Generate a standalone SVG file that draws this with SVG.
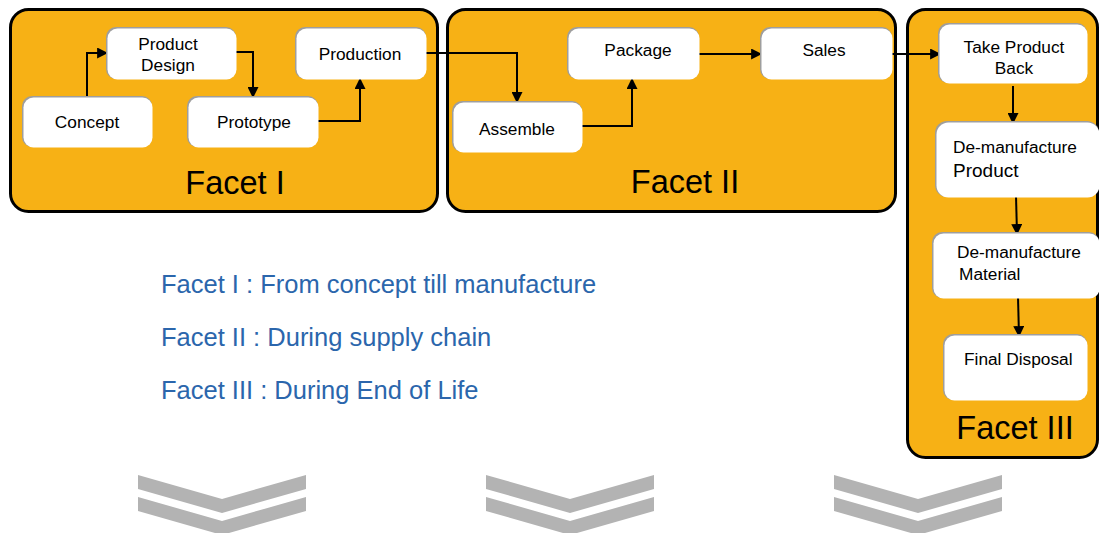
<svg xmlns="http://www.w3.org/2000/svg" width="1099" height="533" viewBox="0 0 1099 533">
  <defs>
    <marker id="arrow" viewBox="0 0 10 10" refX="9" refY="5" markerWidth="5.5" markerHeight="5.5" orient="auto" markerUnits="strokeWidth">
      <path d="M0,0 L10,5 L0,10 Z" fill="#000"/>
    </marker>
    <polygon id="chev" points="-84,0 0,24 84,0 84,14 0,38 -84,14"/>
  </defs>
  <style>
    .facet { fill: #F7B115; stroke: #000; stroke-width: 3; }
    .facet-title { font-family: "Liberation Sans", Arial, sans-serif; font-size: 32.5px; fill: #000; text-anchor: middle; }
    .shadow { fill: #9E9E9E; }
    .box { fill: #fff; }
    .label { font-family: "Liberation Sans", Arial, sans-serif; font-size: 17.3px; fill: #000; }
    .mid { text-anchor: middle; }
    .conn { fill: none; stroke: #000; stroke-width: 2; marker-end: url(#arrow); }
    .legend { font-family: "Liberation Sans", Arial, sans-serif; font-size: 25.5px; fill: #2B66AC; }
    .chevron { fill: #B3B3B3; }
  </style>

  <!-- Facet containers -->
  <g id="facet-1">
    <rect class="facet" x="10.5" y="9.5" width="427" height="202" rx="18"/>
    <text class="facet-title" x="235" y="194">Facet I</text>
  </g>
  <g id="facet-2">
    <rect class="facet" x="447.5" y="9.5" width="448" height="202" rx="18"/>
    <text class="facet-title" x="685" y="193">Facet II</text>
  </g>
  <g id="facet-3">
    <rect class="facet" x="907.5" y="9.5" width="190" height="448" rx="18"/>
    <text class="facet-title" x="1015" y="439">Facet III</text>
  </g>

  <!-- Connectors -->
  <g id="connectors">
    <path class="conn" d="M87,97 V53 H107"/>
    <path class="conn" d="M234,52 H253 V97"/>
    <path class="conn" d="M316,121 H360 V79"/>
    <path class="conn" d="M426,53 H517 V102"/>
    <path class="conn" d="M580,126 H632 V79"/>
    <path class="conn" d="M697,54 H761"/>
    <path class="conn" d="M892,54 H940"/>
    <path class="conn" d="M1013,86 V123"/>
    <path class="conn" d="M1016,196 L1017,234"/>
    <path class="conn" d="M1018,297 L1019,336"/>
  </g>

  <!-- Facet I nodes -->
  <g id="concept">
    <rect class="shadow" x="22" y="96" width="130" height="51" rx="10"/>
    <rect class="box" x="23.5" y="97.5" width="129" height="50" rx="10"/>
    <text class="label mid" x="87" y="128">Concept</text>
  </g>
  <g id="product-design">
    <rect class="shadow" x="106" y="27" width="130" height="52" rx="10"/>
    <rect class="box" x="107.5" y="28.5" width="129" height="51" rx="10"/>
    <text class="label mid" x="168" y="50">Product</text>
    <text class="label mid" x="168" y="71">Design</text>
  </g>
  <g id="prototype">
    <rect class="shadow" x="187" y="96" width="131" height="51" rx="10"/>
    <rect class="box" x="188.5" y="97.5" width="130" height="50" rx="10"/>
    <text class="label mid" x="254" y="128">Prototype</text>
  </g>
  <g id="production">
    <rect class="shadow" x="295" y="27" width="131" height="52" rx="10"/>
    <rect class="box" x="296.5" y="28.5" width="130" height="51" rx="10"/>
    <text class="label mid" x="360" y="60">Production</text>
  </g>

  <!-- Facet II nodes -->
  <g id="assemble">
    <rect class="shadow" x="452" y="101" width="130" height="51" rx="10"/>
    <rect class="box" x="453.5" y="102.5" width="129" height="50" rx="10"/>
    <text class="label mid" x="517" y="135">Assemble</text>
  </g>
  <g id="package">
    <rect class="shadow" x="567" y="27" width="132" height="52" rx="10"/>
    <rect class="box" x="568.5" y="28.5" width="131" height="51" rx="10"/>
    <text class="label mid" x="638" y="56">Package</text>
  </g>
  <g id="sales">
    <rect class="shadow" x="760" y="27" width="132" height="52" rx="10"/>
    <rect class="box" x="761.5" y="28.5" width="131" height="51" rx="10"/>
    <text class="label mid" x="824" y="56">Sales</text>
  </g>

  <!-- Facet III nodes -->
  <g id="take-product-back">
    <rect class="shadow" x="938" y="23" width="149" height="60" rx="10"/>
    <rect class="box" x="939.5" y="24.5" width="148" height="59" rx="10"/>
    <text class="label mid" x="1014" y="53">Take Product</text>
    <text class="label mid" x="1014" y="74">Back</text>
  </g>
  <g id="demanufacture-product">
    <rect class="shadow" x="935" y="121" width="164" height="76" rx="12"/>
    <rect class="box" x="936.5" y="122.5" width="163" height="75" rx="12"/>
    <text class="label" x="953" y="153">De-manufacture</text>
    <text class="label" x="953" y="177" style="font-size:19px">Product</text>
  </g>
  <g id="demanufacture-material">
    <rect class="shadow" x="932" y="232" width="167" height="66" rx="10"/>
    <rect class="box" x="933.5" y="233.5" width="166" height="65" rx="10"/>
    <text class="label" x="957" y="258">De-manufacture</text>
    <text class="label" x="959" y="280">Material</text>
  </g>
  <g id="final-disposal">
    <rect class="shadow" x="943" y="334" width="144" height="66" rx="10"/>
    <rect class="box" x="944.5" y="335.5" width="143" height="65" rx="10"/>
    <text class="label" x="964" y="365">Final Disposal</text>
  </g>

  <!-- Legend -->
  <g id="legend">
    <text class="legend" x="161" y="293">Facet I : From concept till manufacture</text>
    <text class="legend" x="161" y="346">Facet II : During supply chain</text>
    <text class="legend" x="161" y="399">Facet III : During End of Life</text>
  </g>

  <!-- Double chevrons -->
  <g id="chevrons" class="chevron">
    <use href="#chev" x="222" y="475"/>
    <use href="#chev" x="222" y="497"/>
    <use href="#chev" x="570" y="475"/>
    <use href="#chev" x="570" y="497"/>
    <use href="#chev" x="918" y="475"/>
    <use href="#chev" x="918" y="497"/>
  </g>
</svg>
